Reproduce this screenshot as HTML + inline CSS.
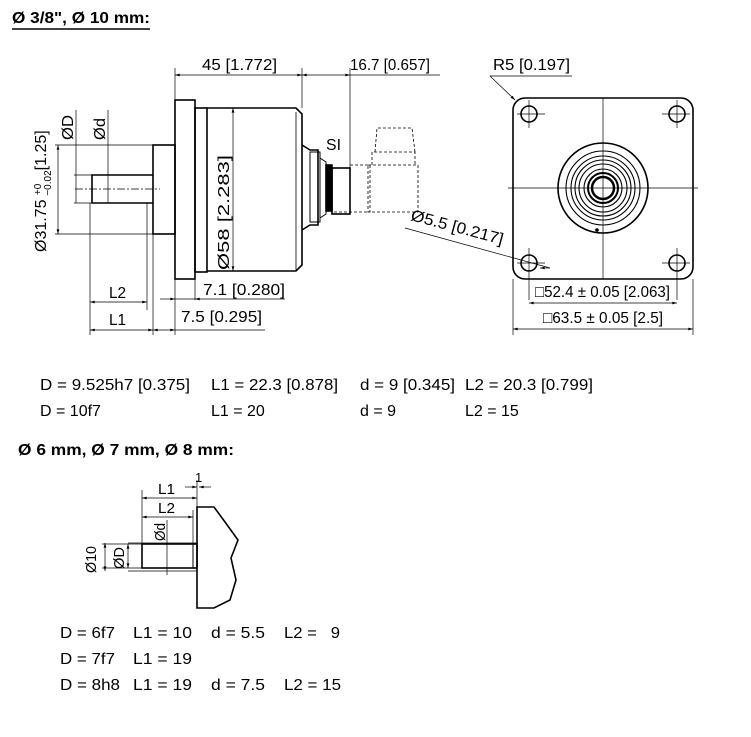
<!DOCTYPE html>
<html><head><meta charset="utf-8"><style>
html,body{margin:0;padding:0;background:#fff;}
svg{display:block;font-family:"Liberation Sans",sans-serif;}
text{fill:#000;}
</style></head><body>
<svg width="751" height="737" viewBox="0 0 751 737" xmlns="http://www.w3.org/2000/svg">
<defs>
<marker id="a" viewBox="0 0 10 6" refX="10" refY="3" markerWidth="8" markerHeight="4" orient="auto-start-reverse"><path d="M0,0 L10,3 L0,6z" fill="#000"/></marker>
</defs>
<g font-size="16">
<text x="12" y="23" font-weight="bold" textLength="138" lengthAdjust="spacingAndGlyphs">Ø 3/8", Ø 10 mm:</text>
<line x1="12" y1="29" x2="150" y2="29" stroke="#000" stroke-width="1.5"/>

<g stroke="#000" fill="none" stroke-width="1.6">
<rect x="175" y="100" width="20" height="179"/>
<rect x="195" y="108" width="12" height="164"/>
<path d="M207,108 H296 L302,114 V265 L296,271 H207"/>
<line x1="296" y1="112" x2="296" y2="270" stroke-width="0.8"/>
<rect x="153" y="145" width="22" height="89"/>
<path d="M153,175 H92 V203 H153"/>
<path d="M302,145 L310,150 H318 V225 H310 L302,230"/>
<rect x="310" y="152" width="10" height="70" stroke-width="1"/>
<path d="M320,158 L326,162 V214 L320,218" stroke-width="1"/>
<rect x="326" y="165" width="6" height="46" fill="#000"/>
<rect x="332" y="168" width="18" height="46"/>
</g>
<g stroke="#000" fill="none" stroke-width="0.8" stroke-dasharray="3,2">
<path d="M350,165 H370 V212 H332"/>
<rect x="368" y="165" width="50" height="47"/>
<path d="M372,165 V152 H415 V165 M375,152 L377,128 H412 L415,152"/>
</g>
<g stroke="#000" fill="none" stroke-width="0.7">
<line x1="75" y1="189" x2="160" y2="189" stroke-dasharray="8,2,2,2"/>
<line x1="175" y1="75" x2="302" y2="75" marker-start="url(#a)" marker-end="url(#a)"/>
<line x1="175" y1="68" x2="175" y2="100"/>
<line x1="302" y1="68" x2="302" y2="108"/>
<line x1="302" y1="75" x2="350" y2="75" marker-start="url(#a)" marker-end="url(#a)"/>
<line x1="350" y1="75" x2="440" y2="75"/>
<line x1="350" y1="68" x2="350" y2="168"/>
<line x1="233" y1="108" x2="233" y2="271" marker-start="url(#a)" marker-end="url(#a)"/>
<line x1="55" y1="145" x2="153" y2="145"/><line x1="55" y1="234" x2="153" y2="234"/>
<line x1="58" y1="145" x2="58" y2="234" marker-start="url(#a)" marker-end="url(#a)"/>
<line x1="76" y1="110" x2="76" y2="203"/>
<line x1="74" y1="175" x2="92" y2="175"/><line x1="74" y1="203" x2="92" y2="203"/>
<line x1="108" y1="110" x2="108" y2="203"/>
<line x1="90" y1="203" x2="90" y2="335"/>
<line x1="147" y1="203" x2="147" y2="310"/>
<line x1="153" y1="234" x2="153" y2="335"/>
<line x1="175" y1="279" x2="175" y2="335"/>
<line x1="195" y1="279" x2="195" y2="300"/>
<line x1="90" y1="302" x2="147" y2="302" marker-start="url(#a)" marker-end="url(#a)"/>
<line x1="90" y1="330" x2="153" y2="330" marker-start="url(#a)" marker-end="url(#a)"/>
<line x1="153" y1="330" x2="175" y2="330" marker-start="url(#a)" marker-end="url(#a)"/>
<line x1="175" y1="330" x2="265" y2="330"/>
<line x1="160" y1="299" x2="175" y2="299" marker-end="url(#a)"/>
<line x1="175" y1="299" x2="195" y2="299"/>
<line x1="195" y1="299" x2="285" y2="299" marker-start="url(#a)"/>
<line x1="405" y1="228" x2="550" y2="268"/>
</g>
<text x="202" y="70" textLength="75" lengthAdjust="spacingAndGlyphs">45 [1.772]</text>
<text x="350" y="70" textLength="80" lengthAdjust="spacingAndGlyphs">16.7 [0.657]</text>
<text x="326" y="150" textLength="15" lengthAdjust="spacingAndGlyphs">SI</text>
<text transform="translate(229,270) rotate(-90)" textLength="115" lengthAdjust="spacingAndGlyphs">Ø58 [2.283]</text>
<text transform="translate(73,140) rotate(-90)" textLength="25" lengthAdjust="spacingAndGlyphs">ØD</text>
<text transform="translate(105,140) rotate(-90)" textLength="22" lengthAdjust="spacingAndGlyphs">Ød</text>
<text transform="translate(46,252) rotate(-90)"><tspan>Ø31.75 </tspan><tspan font-size="10" dy="-5">+0</tspan><tspan font-size="10" dx="-12" dy="10">−0.02</tspan><tspan dy="-5">[1.25]</tspan></text>
<text transform="translate(410,220) rotate(15)" textLength="95" lengthAdjust="spacingAndGlyphs">Ø5.5 [0.217]</text>
<text x="203" y="295" textLength="82" lengthAdjust="spacingAndGlyphs">7.1 [0.280]</text>
<text x="181" y="322" textLength="81" lengthAdjust="spacingAndGlyphs">7.5 [0.295]</text>
<text x="109" y="298" textLength="17" lengthAdjust="spacingAndGlyphs">L2</text>
<text x="109" y="325" textLength="17" lengthAdjust="spacingAndGlyphs">L1</text>

<g stroke="#000" fill="none" stroke-width="1.6">
<rect x="513" y="98" width="180" height="181" rx="12"/>
<circle cx="529" cy="114" r="8"/><circle cx="677" cy="114" r="8"/>
<circle cx="529" cy="263" r="8"/><circle cx="677" cy="263" r="8"/>
<circle cx="603" cy="188" r="45"/>
<g stroke-width="1.1"><circle cx="603" cy="188" r="37"/><circle cx="603" cy="188" r="32"/><circle cx="603" cy="188" r="28"/><circle cx="603" cy="188" r="24"/><circle cx="603" cy="188" r="19"/></g>
<circle cx="603" cy="188" r="15" stroke-width="2"/>
<circle cx="603" cy="188" r="11" stroke-width="2.5"/>
</g>
<circle cx="597" cy="230" r="1.8" fill="#000"/>
<g stroke="#000" fill="none" stroke-width="0.7">
<line x1="603" y1="98" x2="603" y2="279"/><line x1="508" y1="188" x2="698" y2="188"/>
<line x1="517" y1="114" x2="545" y2="114"/><line x1="529" y1="100" x2="529" y2="128"/>
<line x1="662" y1="114" x2="690" y2="114"/><line x1="677" y1="100" x2="677" y2="128"/>
<line x1="517" y1="263" x2="545" y2="263"/><line x1="529" y1="248" x2="529" y2="300"/>
<line x1="662" y1="263" x2="690" y2="263"/><line x1="677" y1="248" x2="677" y2="300"/>
<line x1="513" y1="279" x2="513" y2="335"/><line x1="693" y1="279" x2="693" y2="335"/>
<line x1="529" y1="303" x2="677" y2="303" marker-start="url(#a)" marker-end="url(#a)"/>
<line x1="513" y1="329" x2="693" y2="329" marker-start="url(#a)" marker-end="url(#a)"/>
<line x1="490" y1="76" x2="572" y2="76"/>
<line x1="490" y1="76" x2="515" y2="100" marker-end="url(#a)"/>
<line x1="540" y1="268" x2="550" y2="268" marker-start="url(#a)"/>
</g>
<text x="493" y="70" textLength="77" lengthAdjust="spacingAndGlyphs">R5 [0.197]</text>
<text x="535" y="297" textLength="135" lengthAdjust="spacingAndGlyphs">□52.4 ± 0.05 [2.063]</text>
<text x="543" y="323" textLength="120" lengthAdjust="spacingAndGlyphs">□63.5 ± 0.05 [2.5]</text>

<text x="40" y="390" textLength="150" lengthAdjust="spacingAndGlyphs">D = 9.525h7 [0.375]</text>
<text x="211" y="390" textLength="127" lengthAdjust="spacingAndGlyphs">L1 = 22.3 [0.878]</text>
<text x="360" y="390" textLength="95" lengthAdjust="spacingAndGlyphs">d = 9 [0.345]</text>
<text x="465" y="390" textLength="128" lengthAdjust="spacingAndGlyphs">L2 = 20.3 [0.799]</text>
<text x="40" y="416">D = 10f7</text>
<text x="211" y="416">L1 = 20</text>
<text x="360" y="416">d = 9</text>
<text x="465" y="416">L2 = 15</text>
<text x="18" y="455" font-weight="bold" textLength="216" lengthAdjust="spacingAndGlyphs">Ø 6 mm, Ø 7 mm, Ø 8 mm:</text>

<g stroke="#000" fill="none" stroke-width="1.6">
<path d="M197,507 H214 L225,522 L238,540 L231,558 L236,580 L230,600 L214,608 H197 Z"/>
<rect x="142" y="544" width="55" height="24"/>
<line x1="193" y1="544" x2="193" y2="568" stroke-width="1"/>
</g>
<g stroke="#000" fill="none" stroke-width="0.7">
<line x1="142" y1="490" x2="142" y2="544"/><line x1="197" y1="480" x2="197" y2="507"/>
<line x1="193" y1="510" x2="193" y2="544"/>
<line x1="142" y1="498" x2="197" y2="498" marker-start="url(#a)" marker-end="url(#a)"/>
<line x1="142" y1="517" x2="193" y2="517" marker-start="url(#a)" marker-end="url(#a)"/>
<line x1="185" y1="487" x2="197" y2="487" marker-end="url(#a)"/>
<line x1="199" y1="487" x2="211" y2="487" marker-start="url(#a)"/>
<line x1="167" y1="520" x2="167" y2="575"/>
<line x1="102" y1="544" x2="142" y2="544"/><line x1="102" y1="568" x2="142" y2="568"/>
<line x1="128" y1="543" x2="197" y2="543"/><line x1="128" y1="571" x2="197" y2="571"/>
<line x1="105" y1="543" x2="105" y2="571" marker-start="url(#a)" marker-end="url(#a)"/>
<line x1="128" y1="544" x2="128" y2="568" marker-start="url(#a)" marker-end="url(#a)"/>
</g>
<text x="158" y="494" font-size="15" textLength="17" lengthAdjust="spacingAndGlyphs">L1</text>
<text x="158" y="513" font-size="15" textLength="17" lengthAdjust="spacingAndGlyphs">L2</text>
<text x="195" y="482" font-size="13">1</text>
<text transform="translate(165,541) rotate(-90)" font-size="15" textLength="18" lengthAdjust="spacingAndGlyphs">Ød</text>
<text transform="translate(96,573) rotate(-90)" font-size="15" textLength="27" lengthAdjust="spacingAndGlyphs">Ø10</text>
<text transform="translate(124,569) rotate(-90)" font-size="15" textLength="22" lengthAdjust="spacingAndGlyphs">ØD</text>

<text x="60" y="638" textLength="55" lengthAdjust="spacingAndGlyphs">D = 6f7</text>
<text x="133" y="638" textLength="59" lengthAdjust="spacingAndGlyphs">L1 = 10</text>
<text x="211" y="638" textLength="54" lengthAdjust="spacingAndGlyphs">d = 5.5</text>
<text x="284" y="638" textLength="56" lengthAdjust="spacingAndGlyphs" xml:space="preserve">L2 =   9</text>
<text x="60" y="664" textLength="55" lengthAdjust="spacingAndGlyphs">D = 7f7</text>
<text x="133" y="664" textLength="59" lengthAdjust="spacingAndGlyphs">L1 = 19</text>
<text x="60" y="690" textLength="60" lengthAdjust="spacingAndGlyphs">D = 8h8</text>
<text x="133" y="690" textLength="59" lengthAdjust="spacingAndGlyphs">L1 = 19</text>
<text x="211" y="690" textLength="54" lengthAdjust="spacingAndGlyphs">d = 7.5</text>
<text x="284" y="690" textLength="57" lengthAdjust="spacingAndGlyphs">L2 = 15</text>
</g>
</svg>
</body></html>
